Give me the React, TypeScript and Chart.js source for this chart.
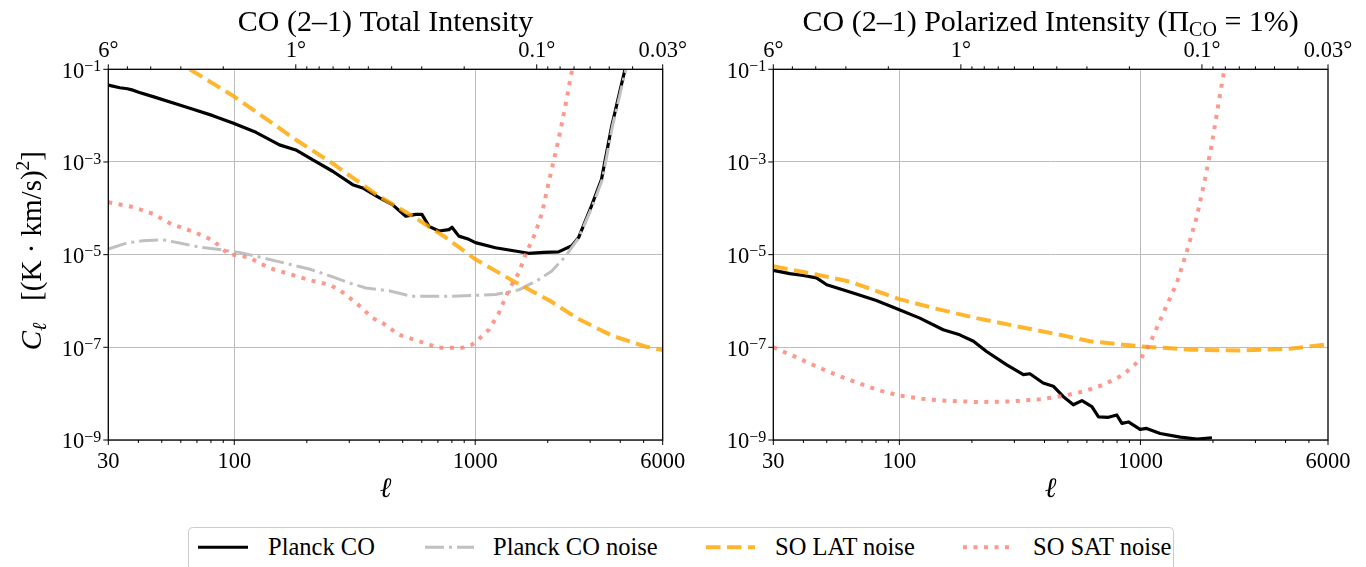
import React, { useEffect, useRef } from 'react';
import { Chart, registerables } from 'chart.js';

Chart.register(...registerables);

const FONT = '"Liberation Serif", "DejaVu Serif", serif';
const GRID = '#bcbcbc';
const ORANGE = 'rgba(255,165,0,0.82)';
const SALMON = 'rgba(250,128,114,0.8)';
const SILVER = '#c0c0c0';

// ---------- axis ticks ----------
const xTickValues = [30, 40, 50, 60, 70, 80, 90, 100, 200, 300, 400, 500, 600, 700, 800, 900, 1000, 2000, 3000, 4000, 5000, 6000];
const xTickLabels: Record<number, string> = { 30: '30', 100: '100', 1000: '1000', 6000: '6000' };
const xGridValues = [100, 1000];
const degTicks = [6, 5, 4, 3, 2, 1, 0.9, 0.8, 0.7, 0.6, 0.5, 0.4, 0.3, 0.2, 0.1, 0.09, 0.08, 0.07, 0.06, 0.05, 0.04, 0.03];
const degLabels: Record<string, string> = { '6': '6°', '1': '1°', '0.1': '0.1°', '0.03': '0.03°' };
const yTickExps = [-1, -3, -5, -7, -9];

// ---------- left panel: total intensity ----------
const totPlanckEll = [30, 33.5, 36, 38, 40.4, 46, 59.3, 67.4, 81.5, 98.6, 123, 154, 180, 211, 256, 310, 341, 399, 453, 515, 567, 601, 643, 707, 778, 801, 855, 941, 1002, 1213, 1667, 1923, 2216, 2518, 2686, 3036, 3341, 3684, 4185];
const totPlanckCl = [4.57e-2, 4.0e-2, 3.8e-2, 3.55e-2, 3.16e-2, 2.57e-2, 1.7e-2, 1.38e-2, 1.0e-2, 6.92e-3, 4.37e-3, 2.34e-3, 1.82e-3, 1.12e-3, 6.31e-4, 3.24e-4, 2.75e-4, 1.7e-4, 1.2e-4, 6.76e-5, 7.41e-5, 7.41e-5, 4.07e-5, 3.24e-5, 3.47e-5, 3.89e-5, 2.51e-5, 2.14e-5, 1.82e-5, 1.41e-5, 1.07e-5, 1.12e-5, 1.15e-5, 1.55e-5, 2.34e-5, 1.12e-4, 4.17e-4, 5.89e-3, 1.0e-1];

const totNoiseEll = [30, 35.7, 41.7, 50.6, 59.3, 71.7, 86.8, 105, 127, 164, 205, 256, 300, 352, 439, 547, 754, 1003, 1214, 1518, 1833, 2075, 2364, 2686, 3060, 3370, 3710, 4220];
const totNoiseCl = [1.32e-5, 1.78e-5, 2.0e-5, 2.09e-5, 1.78e-5, 1.45e-5, 1.29e-5, 1.12e-5, 8.91e-6, 6.46e-6, 4.9e-6, 3.31e-6, 2.45e-6, 1.91e-6, 1.66e-6, 1.26e-6, 1.26e-6, 1.32e-6, 1.38e-6, 1.74e-6, 2.88e-6, 4.37e-6, 9.12e-6, 2.29e-5, 1.1e-4, 4.17e-4, 5.89e-3, 1.0e-1];

const totLatEll = [65.4, 100, 180, 254, 399, 550, 755, 1002, 1474, 2050, 2686, 3700, 5000, 6000];
const totLatCl = [1.0e-1, 2.57e-2, 3.02e-3, 9.55e-4, 1.82e-4, 6.76e-5, 2.34e-5, 7.94e-6, 2.51e-6, 1.0e-6, 4.07e-7, 1.78e-7, 1.07e-7, 8.71e-8];

const totSatEll = [30, 38, 46, 54.7, 67.4, 81.5, 94, 115, 140, 170, 205, 248, 273, 324, 375, 412, 483, 585, 707, 884, 971, 1036, 1139, 1254, 1379, 1517, 1617, 1777, 1893, 2017, 2217, 2365, 2500, 2530];
const totSatCl = [1.35e-4, 1.07e-4, 7.59e-5, 4.57e-5, 3.16e-5, 2.04e-5, 1.05e-5, 8.71e-6, 5.13e-6, 3.8e-6, 2.82e-6, 2.24e-6, 1.74e-6, 8.71e-7, 4.27e-7, 3.39e-7, 1.86e-7, 1.35e-7, 9.77e-8, 9.77e-8, 1.15e-7, 1.51e-7, 2.4e-7, 5.5e-7, 1.74e-6, 4.07e-6, 1.0e-5, 2.95e-5, 7.94e-5, 3.55e-4, 3.02e-3, 1.58e-2, 7.59e-2, 1.0e-1];

// ---------- right panel: polarized intensity ----------
const polPlanckEll = [30, 35.1, 40, 45.3, 50, 64.3, 80.3, 100, 121.6, 152, 178, 203, 230, 279, 327, 348, 395, 435, 478, 527, 572, 629, 670, 737, 798, 838, 892, 997, 1061, 1208, 1463, 1716, 1980];
const polPlanckCl = [4.57e-6, 3.89e-6, 3.55e-6, 3.16e-6, 2.24e-6, 1.48e-6, 1.02e-6, 6.46e-7, 4.27e-7, 2.4e-7, 1.86e-7, 1.35e-7, 8.13e-8, 4.17e-8, 2.57e-8, 2.69e-8, 1.7e-8, 1.45e-8, 8.71e-9, 5.75e-9, 7.08e-9, 5.25e-9, 3.16e-9, 3.09e-9, 3.47e-9, 2.29e-9, 2.45e-9, 1.7e-9, 1.78e-9, 1.38e-9, 1.15e-9, 1.05e-9, 1.12e-9];

const polLatEll = [30, 45.3, 62.3, 100, 143, 209, 317, 464, 618, 1000, 1610, 2594, 4170, 6000];
const polLatCl = [5.62e-6, 3.72e-6, 2.63e-6, 1.1e-6, 6.76e-7, 4.27e-7, 2.75e-7, 1.86e-7, 1.35e-7, 1.05e-7, 8.91e-8, 8.51e-8, 9.33e-8, 1.17e-7];

const polSatEll = [30, 38, 46, 55.7, 67.5, 81.6, 100, 124, 152, 209, 283, 383, 478, 580, 701, 850, 997, 1096, 1245, 1416, 1558, 1716, 1855, 1980, 2108, 2227];
const polSatCl = [1.0e-7, 5.89e-8, 3.72e-8, 2.45e-8, 1.7e-8, 1.2e-8, 9.12e-9, 7.76e-9, 7.08e-9, 6.61e-9, 6.76e-9, 7.59e-9, 8.91e-9, 1.12e-8, 1.55e-8, 2.57e-8, 5.37e-8, 1.23e-7, 5.5e-7, 2.45e-6, 1.17e-5, 6.76e-5, 4.37e-4, 2.51e-3, 1.82e-2, 9.55e-2];

const legendLabels = ['Planck CO', 'Planck CO noise', 'SO LAT noise', 'SO SAT noise'];

type Seg = { t: string; size: number; italic?: boolean; dy?: number };

const fontOf = (s: Seg) => `${s.italic ? 'italic ' : ''}${s.size}px ${FONT}`;

function drawSegs(ctx: CanvasRenderingContext2D, segs: Seg[], x: number, y: number, align: 'left' | 'center' | 'right') {
  let total = 0;
  const ws = segs.map((s) => {
    ctx.font = fontOf(s);
    const w = ctx.measureText(s.t).width;
    total += w;
    return w;
  });
  let cx = align === 'center' ? x - total / 2 : align === 'right' ? x - total : x;
  ctx.textAlign = 'left';
  ctx.textBaseline = 'alphabetic';
  segs.forEach((s, i) => {
    ctx.font = fontOf(s);
    ctx.fillText(s.t, cx, y + (s.dy || 0));
    cx += ws[i];
  });
}

const pts = (xs: number[], ys: number[]) => xs.map((x, i) => ({ x, y: ys[i] }));

function makeDecor(title: Seg[], yLabel: boolean) {
  return {
    id: 'decor',
    afterDraw(chart: any) {
      const { ctx, chartArea: ca, scales } = chart;
      const xs = scales.x;
      const x2 = scales.x2;
      const ys = scales.y;
      ctx.save();
      ctx.fillStyle = '#000';
      ctx.strokeStyle = '#000';
      // frame
      ctx.lineWidth = 1.3;
      ctx.strokeRect(ca.left, ca.top, ca.right - ca.left, ca.bottom - ca.top);
      // ticks
      ctx.lineWidth = 1;
      ctx.beginPath();
      xTickValues.forEach((v) => {
        const px = xs.getPixelForValue(v);
        const len = xTickLabels[v] ? 5 : 3;
        ctx.moveTo(px, ca.bottom);
        ctx.lineTo(px, ca.bottom + len);
      });
      degTicks.forEach((d) => {
        const px = x2.getPixelForValue(180 / d);
        const len = degLabels[String(d)] ? 5 : 3;
        ctx.moveTo(px, ca.top);
        ctx.lineTo(px, ca.top - len);
      });
      yTickExps.forEach((e) => {
        const py = ys.getPixelForValue(Math.pow(10, e));
        ctx.moveTo(ca.left, py);
        ctx.lineTo(ca.left - 5, py);
      });
      ctx.stroke();
      // tick labels
      xTickValues.forEach((v) => {
        const lab = xTickLabels[v];
        if (!lab) return;
        drawSegs(ctx, [{ t: lab, size: 22.5 }], xs.getPixelForValue(v), ca.bottom + 27.7, 'center');
      });
      degTicks.forEach((d) => {
        const lab = degLabels[String(d)];
        if (!lab) return;
        drawSegs(ctx, [{ t: lab, size: 22.5 }], x2.getPixelForValue(180 / d), ca.top - 12.5, 'center');
      });
      yTickExps.forEach((e) => {
        const py = ys.getPixelForValue(Math.pow(10, e));
        drawSegs(ctx, [{ t: '10', size: 22.5 }, { t: '\u2212' + String(-e), size: 16, dy: -6.6 }], ca.left - 7, py + 8.3, 'right');
      });
      // axis titles
      const cxm = (ca.left + ca.right) / 2;
      drawSegs(ctx, [{ t: 'ℓ', size: 28, italic: true }], cxm, ca.bottom + 57, 'center');
      drawSegs(ctx, title, cxm, ca.top - 38.5, 'center');
      if (yLabel) {
        ctx.save();
        ctx.translate(41, (ca.top + ca.bottom) / 2 - 4);
        ctx.rotate(-Math.PI / 2);
        drawSegs(
          ctx,
          [
            { t: 'C', size: 29, italic: true },
            { t: 'ℓ', size: 20, italic: true, dy: 5 },
            { t: '   [(K · km/s)', size: 29 },
            { t: '2', size: 19.5, dy: -12 },
            { t: ']', size: 29 },
          ],
          0,
          0,
          'center'
        );
        ctx.restore();
      }
      ctx.restore();
    },
  };
}

function buildChart(canvas: HTMLCanvasElement, pol: boolean) {
  const datasets: any[] = [];
  const common = { pointRadius: 0, tension: 0, fill: false, clip: 0, borderCapStyle: 'butt', borderJoinStyle: 'round' };
  if (!pol) {
    datasets.push({ ...common, label: legendLabels[0], data: pts(totPlanckEll, totPlanckCl), borderColor: '#000', borderWidth: 3.2, order: 4 });
    datasets.push({ ...common, label: legendLabels[1], data: pts(totNoiseEll, totNoiseCl), borderColor: SILVER, borderWidth: 3, borderDash: [19, 5, 3, 5], order: 3 });
    datasets.push({ ...common, label: legendLabels[2], data: pts(totLatEll, totLatCl), borderColor: ORANGE, borderWidth: 4, borderDash: [14.5, 6.5], order: 2 });
    datasets.push({ ...common, label: legendLabels[3], data: pts(totSatEll, totSatCl), borderColor: SALMON, borderWidth: 4, borderDash: [4, 6.5], order: 1 });
  } else {
    datasets.push({ ...common, label: legendLabels[0], data: pts(polPlanckEll, polPlanckCl), borderColor: '#000', borderWidth: 3.2, order: 4 });
    datasets.push({ ...common, label: legendLabels[2], data: pts(polLatEll, polLatCl), borderColor: ORANGE, borderWidth: 4, borderDash: [14.5, 6.5], order: 2 });
    datasets.push({ ...common, label: legendLabels[3], data: pts(polSatEll, polSatCl), borderColor: SALMON, borderWidth: 4, borderDash: [4, 6.5], order: 1 });
  }
  const title: Seg[] = pol
    ? [
        { t: 'CO (2–1) Polarized Intensity (Π', size: 30 },
        { t: 'CO', size: 20, dy: 5 },
        { t: ' = 1%)', size: 30 },
      ]
    : [{ t: 'CO (2–1) Total Intensity', size: 30 }];
  const leftW = pol ? 90.3 : 108.3;
  const padR = pol ? 38 : 57.3;
  return new Chart(canvas, {
    type: 'line',
    data: { datasets },
    options: {
      animation: false,
      responsive: false,
      maintainAspectRatio: false,
      events: [],
      layout: { padding: { left: 0, top: 0, right: padR, bottom: 0 } },
      plugins: { legend: { display: false }, tooltip: { enabled: false }, title: { display: false } },
      scales: {
        x: {
          type: 'logarithmic',
          position: 'bottom',
          min: 30,
          max: 6000,
          afterBuildTicks: (s: any) => {
            s.ticks = xTickValues.map((v) => ({ value: v }));
          },
          afterFit: (s: any) => {
            s.height = 80;
            s.paddingLeft = 0;
            s.paddingRight = 0;
          },
          ticks: { display: false },
          grid: {
            drawTicks: false,
            lineWidth: 1,
            color: (c: any) => (c.tick && xGridValues.includes(c.tick.value) ? GRID : 'rgba(0,0,0,0)'),
          },
          border: { display: false },
        },
        x2: {
          type: 'logarithmic',
          position: 'top',
          axis: 'x',
          min: 30,
          max: 6000,
          afterFit: (s: any) => {
            s.height = 69.3;
            s.paddingLeft = 0;
            s.paddingRight = 0;
          },
          ticks: { display: false },
          grid: { display: false, drawTicks: false },
          border: { display: false },
        },
        y: {
          type: 'logarithmic',
          position: 'left',
          min: 1e-9,
          max: 1e-1,
          afterBuildTicks: (s: any) => {
            s.ticks = yTickExps.map((e) => ({ value: Math.pow(10, e) }));
          },
          afterFit: (s: any) => {
            s.width = leftW;
            s.paddingTop = 0;
            s.paddingBottom = 0;
          },
          ticks: { display: false },
          grid: { drawTicks: false, lineWidth: 1, color: GRID },
          border: { display: false },
        },
      },
    } as any,
    plugins: [makeDecor(title, !pol)],
  });
}

function Legend() {
  const y = 27.3;
  const ty = 35;
  const items = [
    { x1: 198, x2: 248, tx: 268, color: '#000', w: 3, dash: undefined as string | undefined },
    { x1: 425, x2: 474, tx: 493, color: SILVER, w: 3, dash: '19 5 3 5' },
    { x1: 706, x2: 755, tx: 775, color: ORANGE, w: 4, dash: '14.5 6.5' },
    { x1: 963, x2: 1010, tx: 1033, color: SALMON, w: 4, dash: '4 6.5' },
  ];
  return (
    <svg width={1366} height={47} style={{ position: 'absolute', left: 0, top: 520 }}>
      <rect x={188.5} y={7.5} width={985} height={60} rx={4} ry={4} fill="#fff" stroke="#cccccc" strokeWidth={1} />
      {items.map((it, i) => (
        <g key={i}>
          <line x1={it.x1} x2={it.x2} y1={y} y2={y} stroke={it.color} strokeWidth={it.w} strokeDasharray={it.dash} />
          <text x={it.tx} y={ty} fontFamily={FONT} fontSize={24.5} fill="#000">
            {legendLabels[i]}
          </text>
        </g>
      ))}
    </svg>
  );
}

export default function App() {
  const leftRef = useRef<HTMLCanvasElement>(null);
  const rightRef = useRef<HTMLCanvasElement>(null);
  useEffect(() => {
    const a = buildChart(leftRef.current as HTMLCanvasElement, false);
    const b = buildChart(rightRef.current as HTMLCanvasElement, true);
    return () => {
      a.destroy();
      b.destroy();
    };
  }, []);
  return (
    <div style={{ position: 'fixed', left: 0, top: 0, width: 1366, height: 567, overflow: 'hidden', background: '#fff' }}>
      <canvas ref={leftRef} width={720} height={520} style={{ position: 'absolute', left: 0, top: 0, width: 720, height: 520 }} />
      <canvas ref={rightRef} width={683} height={520} style={{ position: 'absolute', left: 683, top: 0, width: 683, height: 520 }} />
      <Legend />
    </div>
  );
}
